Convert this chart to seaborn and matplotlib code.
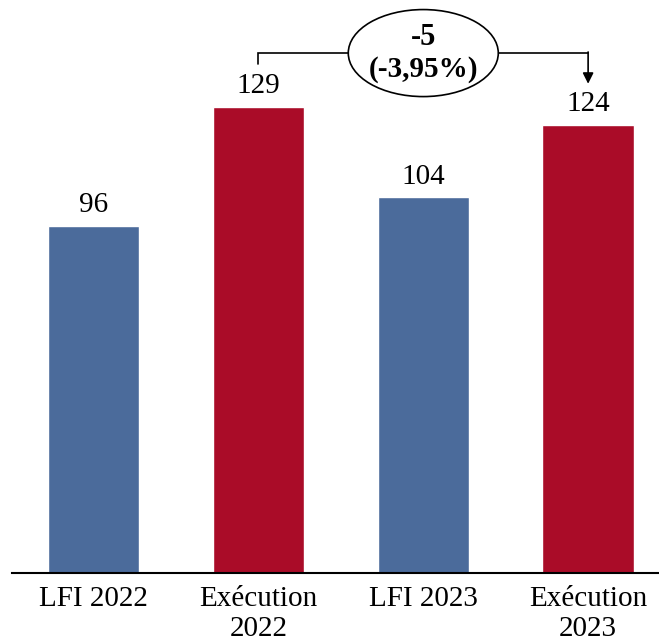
import matplotlib
matplotlib.use("Agg")
import matplotlib.pyplot as plt
from matplotlib.patches import Ellipse
import seaborn as sns
import pandas as pd

categories = ["LFI 2022", "Exécution\n2022", "LFI 2023", "Exécution\n2023"]
values = [96, 129, 104, 124]
colors = ["#4B6B9B", "#AA0C28", "#4B6B9B", "#AA0C28"]
delta_label = "-5"
delta_pct_label = "(-3,95%)"

sns.set_theme(style="white")
plt.rcParams["font.family"] = ["Liberation Serif", "DejaVu Serif"]
plt.rcParams["text.color"] = "black"
plt.rcParams["xtick.color"] = "black"

df = pd.DataFrame({"cat": categories, "val": values})

fig = plt.figure(figsize=(6.59, 6.44), dpi=100)
ax = fig.add_axes([12 / 659, 71 / 644, 647 / 659, 573 / 644])

sns.barplot(data=df, x="cat", y="val", hue="cat", palette=colors,
            legend=False, width=0.555, saturation=1, ax=ax)

ax.set_xlim(-0.495, 3.43)
ax.set_ylim(0, 158.7)
ax.set_xlabel("")
ax.set_ylabel("")
ax.set_yticks([])
for s in ["top", "right", "left"]:
    ax.spines[s].set_visible(False)
ax.spines["bottom"].set_color("black")
ax.spines["bottom"].set_linewidth(1.5)
ax.tick_params(axis="x", length=0, pad=9, labelsize=21, colors="black")
for lab in ax.get_xticklabels():
    lab.set_linespacing(1.2)
    lab.set_color("black")

for i, v in enumerate(values):
    ax.text(i, v + 2.2, f"{v}", ha="center", va="bottom", fontsize=21, color="black")

# Variation between the two executions
y_line = 144
ax.plot([1, 1, 2 - 0.455], [141, y_line, y_line], color="black", lw=1.2,
        solid_joinstyle="miter")
ax.plot([2 + 0.455, 3], [y_line, y_line], color="black", lw=1.2)
ax.annotate("", xy=(3, 135.5), xytext=(3, y_line + 0.3),
            arrowprops=dict(arrowstyle="-|>", color="black", lw=1.2,
                            mutation_scale=16, shrinkA=0, shrinkB=0))
ax.add_patch(Ellipse((2, y_line), 0.91, 24.1, facecolor="white",
                     edgecolor="black", lw=1.2, clip_on=False, zorder=5))
ax.text(2, y_line + 4.2, delta_label, ha="center", va="center", fontsize=22,
        fontweight="bold", color="black", zorder=6)
ax.text(2, y_line - 4.6, delta_pct_label, ha="center", va="center", fontsize=21,
        fontweight="bold", color="black", zorder=6)

fig.savefig("out.png", dpi=100)
